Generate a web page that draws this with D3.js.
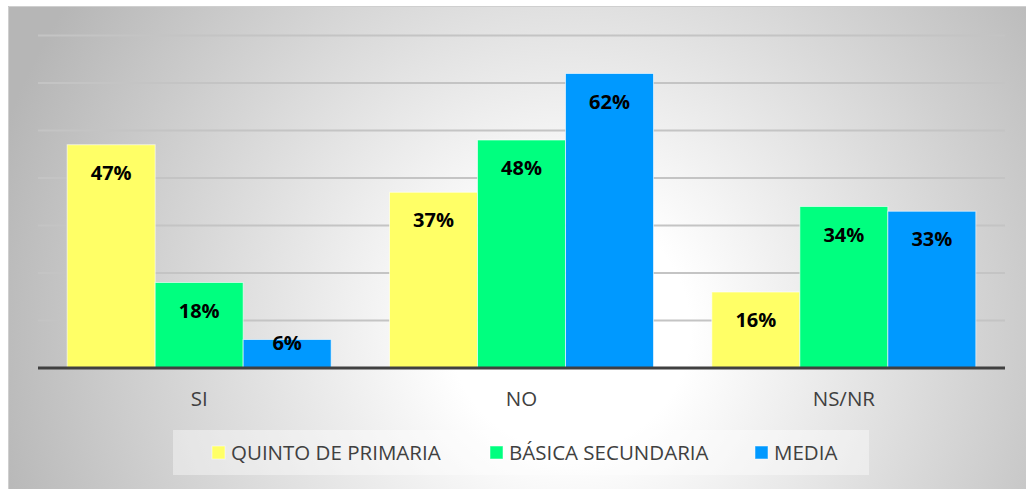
<!DOCTYPE html>
<meta charset="utf-8">
<style>
body { margin: 0; background: #fff; }
.grid line { stroke: #c4c4c4; stroke-width: 2px; }
.xaxis text { fill: #404040; font-family: "Open Sans", sans-serif; font-size: 20.5px; }
.lbl { font-family: "Open Sans", sans-serif; font-weight: bold; font-size: 20px; fill: #000; }
.legend text { fill: #404040; font-family: "Open Sans", sans-serif; font-size: 20.5px; }
</style>
<body>
<script src="https://cdn.jsdelivr.net/npm/d3@7"></script>
<script>

// data
var categories = ["SI", "NO", "NS/NR"];
var seriesNames = ["QUINTO DE PRIMARIA", "BÁSICA SECUNDARIA", "MEDIA"];
var quinto = [47, 37, 16];
var basica = [18, 48, 34];
var media = [6, 62, 33];
var yTicks = [0, 10, 20, 30, 40, 50, 60, 70];
var colors = ["#ffff66", "#00ff7f", "#0099ff"];

var W = 1026, H = 489;
var margin = {top: 35.5, right: 21, bottom: 121, left: 38},
    width = W - margin.left - margin.right,
    height = H - margin.top - margin.bottom;

var svg = d3.select("body").append("svg")
    .attr("width", W)
    .attr("height", H);

// background gradient
var defs = svg.append("defs");
var grad = defs.append("radialGradient")
    .attr("id", "bg")
    .attr("gradientUnits", "userSpaceOnUse")
    .attr("cx", 570).attr("cy", 330).attr("r", 600);
grad.append("stop").attr("offset", "0.2").attr("stop-color", "#ffffff");
grad.append("stop").attr("offset", "1").attr("stop-color", "#b6b6b6");

svg.append("rect")
    .attr("x", 8).attr("y", 6)
    .attr("width", W - 8).attr("height", H - 6)
    .attr("fill", "url(#bg)");
svg.append("path")
    .attr("d", "M8.5," + H + "V6.5H" + W)
    .attr("fill", "none")
    .attr("stroke", "#cfcfcf");

var g = svg.append("g")
    .attr("transform", "translate(" + margin.left + "," + margin.top + ")");

var x0 = d3.scaleBand().domain(categories).range([0, width]).paddingInner(0.181).paddingOuter(0.0905);
var x1 = d3.scaleBand().domain(seriesNames).range([0, x0.bandwidth()]);
var y = d3.scaleLinear().domain([0, 70]).range([height, 0]);

// gridlines
g.append("g").attr("class", "grid")
  .selectAll("line")
  .data(yTicks.slice(1))
  .enter().append("line")
    .attr("x1", 0).attr("x2", width)
    .attr("y1", function(d) { return y(d); })
    .attr("y2", function(d) { return y(d); });

var series = [quinto, basica, media];
var rows = [];
categories.forEach(function(c, i) {
  seriesNames.forEach(function(s, j) {
    rows.push({cat: c, name: s, value: series[j][i], color: colors[j]});
  });
});

g.selectAll(".bar")
  .data(rows)
  .enter().append("rect")
    .attr("class", "bar")
    .attr("x", function(d) { return x0(d.cat) + x1(d.name); })
    .attr("y", function(d) { return y(d.value); })
    .attr("width", x1.bandwidth())
    .attr("height", function(d) { return height - y(d.value); })
    .attr("fill", function(d) { return d.color; })
    .attr("stroke", "rgba(255,255,255,0.6)")
    .attr("stroke-width", 1);

g.selectAll(".lbl")
  .data(rows)
  .enter().append("text")
    .attr("class", "lbl")
    .attr("text-anchor", "middle")
    .attr("x", function(d) { return x0(d.cat) + x1(d.name) + x1.bandwidth() / 2; })
    .attr("y", function(d) { return Math.min(y(d.value) + 35, height - 18); })
    .text(function(d) { return d.value + "%"; });

// baseline
g.append("line")
    .attr("x1", 0).attr("x2", width)
    .attr("y1", height).attr("y2", height)
    .attr("stroke", "#404040")
    .attr("stroke-width", 3);

// category labels
var xAxis = g.append("g").attr("class", "xaxis")
    .attr("transform", "translate(0," + height + ")")
    .call(d3.axisBottom(x0).tickSize(0).tickPadding(0));
xAxis.select(".domain").remove();
xAxis.selectAll("text").attr("dy", null).attr("y", 38);

// legend
var legend = svg.append("g").attr("class", "legend");
legend.append("rect")
    .attr("x", 173).attr("y", 430)
    .attr("width", 696).attr("height", 45)
    .attr("fill", "rgba(255,255,255,0.4)");
var legX = [212, 490, 755];
seriesNames.forEach(function(s, j) {
  legend.append("rect")
    .attr("x", legX[j]).attr("y", 446)
    .attr("width", 13).attr("height", 13)
    .attr("fill", colors[j])
    .attr("stroke", "rgba(255,255,255,0.5)");
  legend.append("text")
    .attr("x", legX[j] + 19).attr("y", 460)
    .text(s);
});

</script>
</body>
